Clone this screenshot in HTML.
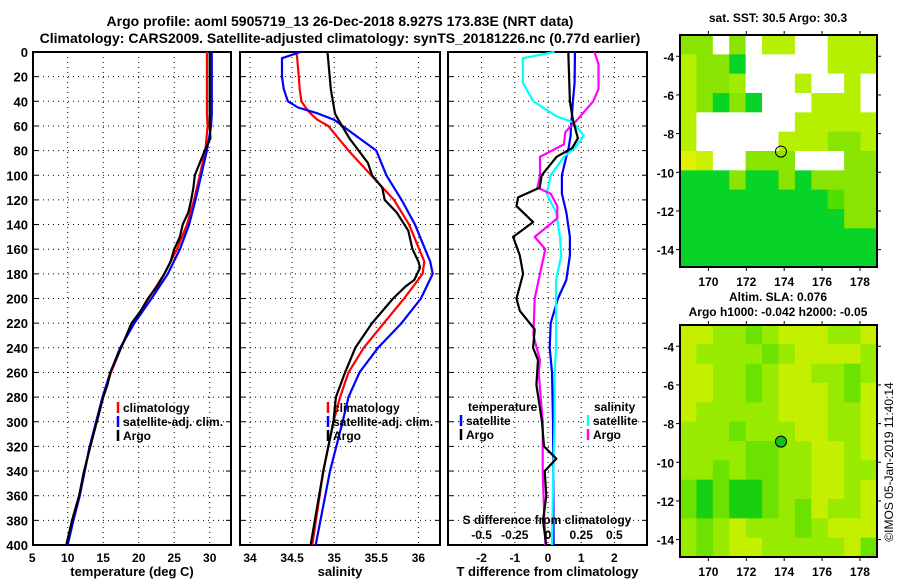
<!DOCTYPE html>
<html><head><meta charset="utf-8">
<style>
html,body{margin:0;padding:0;background:#fff;}
svg{display:block;font-family:"Liberation Sans",Arial,sans-serif;font-weight:bold;}
</style></head>
<body>
<svg id="fig" width="900" height="580" viewBox="0 0 900 580" xmlns="http://www.w3.org/2000/svg">
<text x="340" y="26" text-anchor="middle" font-size="14">Argo profile: aoml 5905719_13 26-Dec-2018 8.927S 173.83E (NRT data)</text>
<text x="340" y="43" text-anchor="middle" font-size="14">Climatology: CARS2009. Satellite-adjusted climatology: synTS_20181226.nc (0.77d earlier)</text>
<g id="p1"></g>
<g id="p2"></g>
<g id="p3"></g>
<g id="m1"></g>
<g id="m2"></g>
<text x="778" y="22" text-anchor="middle" font-size="12">sat. SST: 30.5 Argo: 30.3</text>
<text x="778" y="301" text-anchor="middle" font-size="12">Altim. SLA: 0.076</text>
<text x="778" y="316" text-anchor="middle" font-size="12">Argo h1000: -0.042 h2000: -0.05</text>
<text transform="translate(893,462) rotate(-90)" text-anchor="middle" font-size="12" font-weight="normal">©IMOS 05-Jan-2019 11:40:14</text>
</svg>
<script>
// ---- profile data (depth in m) ----
const depthT = [0,50,60,80,100,120,140,160,180,200,220,240,260,280,300,320,340,360,380,400];
const tempClim = [29.6,29.6,29.7,29.4,28.6,27.8,26.8,25.4,23.6,21.4,19.2,17.5,16.1,15.0,14.1,13.1,12.4,11.6,10.7,9.9];
const tempSat  = [30.3,30.3,30.2,29.6,28.8,28.0,27.1,25.8,24.1,21.8,19.4,17.4,16.0,14.9,14.0,13.1,12.4,11.7,10.8,10.0];
const depthTA = [0,60,70,80,90,100,110,120,130,140,150,160,170,180,190,200,210,220,240,260,270,280,300,320,340,360,380,400];
const tempArgo = [30.0,30.0,30.1,29.3,28.6,27.9,27.7,27.4,27.0,26.2,25.8,25.0,24.5,23.6,22.6,21.3,20.3,19.0,17.5,16.0,15.6,15.0,14.1,13.2,12.3,11.6,10.6,9.8];
const depthS = [0,5,20,30,40,45,50,55,60,80,100,120,140,160,170,180,200,220,240,260,280,300,340,400];
const salClim = [34.55,34.56,34.58,34.59,34.61,34.66,34.72,34.80,34.93,35.17,35.44,35.71,35.89,36.01,36.07,36.05,35.83,35.59,35.35,35.17,35.07,34.99,34.87,34.74];
const salSat  = [34.60,34.38,34.38,34.40,34.45,34.57,34.81,35.00,35.10,35.50,35.62,35.80,35.96,36.08,36.14,36.17,36.03,35.80,35.52,35.30,35.17,35.10,34.95,34.78];
const depthSA = [0,30,50,55,70,90,100,110,120,130,145,160,170,175,185,190,200,220,240,260,280,300,340,400];
const salArgo = [34.92,34.96,35.01,35.05,35.18,35.40,35.45,35.57,35.60,35.74,35.88,35.93,36.00,36.02,35.95,35.85,35.70,35.45,35.25,35.13,35.02,34.99,34.87,34.72];
// differences from climatology
const depthD = [0,5,25,40,52,57,68,78,85,100,115,130,150,165,185,200,220,240,260,300,340,400];
const tdiffSat = [0.81,0.81,0.80,0.75,0.72,0.70,0.68,0.62,0.55,0.42,0.42,0.55,0.66,0.66,0.55,0.30,0.08,0.05,0.12,0.15,0.16,0.17];
const sdiffSat = [0.05,-0.19,-0.19,-0.11,0.06,0.19,0.27,0.20,0.12,0.02,-0.01,0.06,0.09,0.10,0.06,0.06,0.06,0.06,0.05,0.05,0.04,0.03];
const depthTAD = [0,40,55,70,78,85,100,110,118,125,138,150,165,180,200,210,225,240,250,270,300,320,330,340,360,380,400];
const tdiffArgo = [0.61,0.66,0.75,0.90,0.73,0.26,-0.19,-0.25,-0.90,-0.95,-0.45,-1.05,-0.85,-0.75,-0.95,-0.85,-0.40,-0.45,-0.30,-0.35,-0.18,-0.12,0.25,-0.10,-0.05,-0.15,-0.05];
const depthSAD = [0,10,30,40,55,65,75,85,100,110,115,125,135,150,160,180,200,230,250,260,300,340,400];
const sdiffArgo = [0.35,0.38,0.38,0.34,0.22,0.13,0.12,-0.06,-0.06,-0.08,0.02,0.07,0.07,-0.10,-0.02,-0.06,-0.10,-0.11,-0.06,-0.07,-0.04,-0.04,-0.02];
// ticks
const depthTicks = [0,20,40,60,80,100,120,140,160,180,200,220,240,260,280,300,320,340,360,380,400];
const tempTicks = [5,10,15,20,25,30];
const salTicks = [34,34.5,35,35.5,36];
const tdiffTicks = [-2,-1,0,1,2];
const sdiffTicks = [-0.5,-0.25,0,0.25,0.5];
const sdiffLabels = ["-0.5","-0.25","0","0.25","0.5"];
const lonTicks = [170,172,174,176,178];
const latTicks = [-4,-6,-8,-10,-12,-14];
// map colour grids (12x12, lon 168.5..178.9, lat -2.9..-14.9)
const sstGrid = [
"llwlwyywwyyy","yllgwwwwwyyy","yllLwwwywwyw","ylglgwwwyyyw","ywwwwwwyyyyy","ywwwwwyyylly",
"Ytwwlllwwwll","ggglgglgllll","gggggggggGll","ggggggggggll","gggggggggggg","gggggggggggg"];
const slaGrid = [
"yyllmlyyylly","yllllmlyyyyll","yyllmlyyllml","yyllmlyyylmy","ylllllyyylly","lllmlllyylly",
"llllmmllyyly","llmlmmllyyll","mgmggmllyyly","mgmggmlmylly","lmlylllmlyyy","lmlyylllllymm"];
const argoLon = 173.83, argoLat = -8.93;

const NS="http://www.w3.org/2000/svg";
function mk(tag,attrs,parent,text){const e=document.createElementNS(NS,tag);for(const k in attrs)e.setAttribute(k,attrs[k]);if(text!==undefined)e.textContent=text;parent.appendChild(e);return e;}
const yD = d => 52 + d*(545-52)/400;

function frame(g,x0,x1,xScale,xTicks,xLabels,showY,title,gridX){
  for(const d of depthTicks){ if(d===0||d===400) continue;
    const l=mk('line',{x1:x0,x2:x1,y1:yD(d),y2:yD(d),stroke:'#000','stroke-width':1,'stroke-dasharray':'1,4'},g);
    
    
    const t1=mk('line',{x1:x0,x2:x0+5,y1:yD(d),y2:yD(d),stroke:'#000'},g);
    
    
    const t2=mk('line',{x1:x1-5,x2:x1,y1:yD(d),y2:yD(d),stroke:'#000'},g);
    
    
  }
  for(const v of gridX){ const x=xScale(v);
    const l=mk('line',{x1:x,x2:x,y1:52,y2:545,stroke:'#000','stroke-width':1,'stroke-dasharray':'1,4'},g);
    
    
  }
  xTicks.forEach((v,i)=>{ const x=xScale(v);
    const t=mk('text',{x:x,y:562,'text-anchor':'middle','font-size':12},g,xLabels[i]);
    
    
  });
  if(showY){ for(const d of depthTicks){
    const t=mk('text',{x:28,y:yD(d)+5,'text-anchor':'end','font-size':13},g,String(d));
    
    
  }}
  const tt=mk('text',{x:(x0+x1)/2,y:576,'text-anchor':'middle','font-size':13},g,title);
  
  
  const r=mk('rect',{x:x0,y:52,width:x1-x0,height:493,fill:'none',stroke:'#000','stroke-width':2},g);
  
  
}
function line(g,xs,ds,xScale,color,name){
  const pts=xs.map((v,i)=>xScale(v).toFixed(1)+','+yD(ds[i]).toFixed(1)).join(' ');
  const p=mk('polyline',{points:pts,fill:'none',stroke:color,'stroke-width':2.2,'stroke-linejoin':'round'},g);
  
  
}
function legend(g,x,y,items){
  items.forEach((it,i)=>{
    const b=mk('line',{x1:x,x2:x,y1:y+i*14-10,y2:y+i*14+1,stroke:it[1],'stroke-width':2.5},g);
    
    
    const t=mk('text',{x:x+5,y:y+i*14,'font-size':12},g,it[0]);
    
    
  });
}
const p1=document.getElementById('p1');
const xT = v => 67.7 + (v-10)*7.1;
frame(p1,33,231,xT,tempTicks,tempTicks.map(String),true,'temperature (deg C)',[10,15,20,25,30]);
line(p1,tempClim,depthT,xT,'#ff0000','climatology-temp-line');
line(p1,tempSat,depthT,xT,'#0000ff','satellite-temp-line');
line(p1,tempArgo,depthTA,xT,'#000000','argo-temp-line');
legend(p1,118,412,[['climatology','#ff0000'],['satellite-adj. clim.','#0000ff'],['Argo','#000']]);
const p2=document.getElementById('p2');
const xS = v => 250 + (v-34)*84.2;
frame(p2,240,440,xS,salTicks,salTicks.map(String),false,'salinity',salTicks);
line(p2,salClim,depthS,xS,'#ff0000','climatology-salinity-line');
line(p2,salSat,depthS,xS,'#0000ff','satellite-salinity-line');
line(p2,salArgo,depthSA,xS,'#000000','argo-salinity-line');
legend(p2,328,412,[['climatology','#ff0000'],['satellite-adj. clim.','#0000ff'],['Argo','#000']]);
const p3=document.getElementById('p3');
const xD = v => 548 + v*33.2;
const xSD = v => 548 + v*132.8;
frame(p3,448,647,xD,tdiffTicks,tdiffTicks.map(String),false,'T difference from climatology',tdiffTicks);
line(p3,tdiffSat,depthD,xD,'#0000ff','satellite-tdiff-line');
line(p3,sdiffSat,depthD,xSD,'#00ffff','satellite-sdiff-line');
line(p3,sdiffArgo,depthSAD,xSD,'#ff00ff','argo-sdiff-line');
line(p3,tdiffArgo,depthTAD,xD,'#000000','argo-tdiff-line');
{const t=mk('text',{x:468,y:411,'font-size':12},p3,'temperature');}
legend(p3,461,425,[['satellite','#0000ff'],['Argo','#000']]);
{const t=mk('text',{x:594,y:411,'font-size':12},p3,'salinity');}
legend(p3,588,425,[['satellite','#00ffff'],['Argo','#ff00ff']]);
{const t=mk('text',{x:547,y:524,'text-anchor':'middle','font-size':12},p3,'S difference from climatology');}
sdiffTicks.forEach((v,i)=>{const t=mk('text',{x:xSD(v),y:539,'text-anchor':'middle','font-size':12},p3,sdiffLabels[i]);});

const col={l:'#88e400',y:'#b4f000',Y:'#e0f000',t:'#c8f000',L:'#a0ec00',g:'#08d428',G:'#50e000',d:'#10c838',w:'#ffffff',m:'#5ee000'};
const col2={y:'#c4f000',l:'#98ea00',m:'#6ce200',g:'#18d010',w:'#fff'};
function map(g,grid,cols,top,name){
  const L=680,R=877,B=top+232;
  const lonX=v=>L+(v-168.5)*(R-L)/10.4, latY=v=>top+(-2.9-v)*(B-top)/12;
  const cw=(R-L)/12, ch=(B-top)/12;
  grid.forEach((row,r)=>{ for(let c=0;c<12;c++){ const k=row[c]||row[row.length-1];
    const e=mk('rect',{x:L+c*cw,y:top+r*ch,width:cw+0.5,height:ch+0.5,fill:cols[k]||'#88e400'},g);
    
    
  }});
  const c=mk('circle',{cx:lonX(argoLon),cy:latY(argoLat),r:5.5,fill:name==='sla'?'#10c020':'none',stroke:'#000','stroke-width':1},g);
  
  
  const f=mk('rect',{x:L,y:top,width:R-L,height:B-top,fill:'none',stroke:'#000','stroke-width':2},g);
  
  
  for(const v of lonTicks){const x=lonX(v);
    const t=mk('text',{x:x,y:B+19,'text-anchor':'middle','font-size':12},g,String(v));
    
    
    mk('line',{x1:x,x2:x,y1:top-4,y2:top,stroke:'#000'},g);
    mk('line',{x1:x,x2:x,y1:B,y2:B+4,stroke:'#000'},g);
  }
  for(const v of latTicks){const y=latY(v);
    const t=mk('text',{x:674,y:y+5,'text-anchor':'end','font-size':12},g,String(v));
    
    
    mk('line',{x1:L-4,x2:L,y1:y,y2:y,stroke:'#000'},g);
    mk('line',{x1:R,x2:R+4,y1:y,y2:y,stroke:'#000'},g);
  }
}
map(document.getElementById('m1'),sstGrid,col,35,'sst');
map(document.getElementById('m2'),slaGrid,col2,325,'sla');
</script>
</body></html>
